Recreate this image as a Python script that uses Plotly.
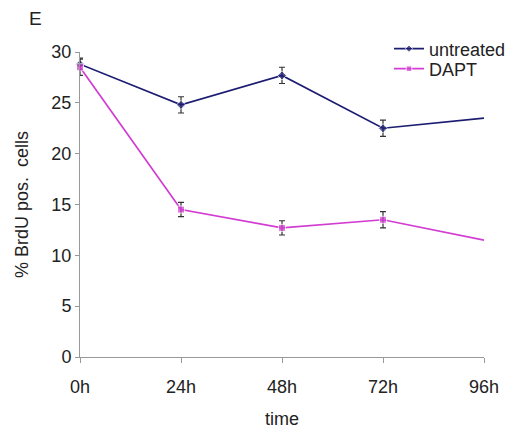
import plotly.graph_objects as go

times = [0, 24, 48, 72, 96]
tick_labels = ["0h", "24h", "48h", "72h", "96h"]
untreated = [28.8, 24.8, 27.7, 22.5, 23.5]
untreated_err = [0.6, 0.8, 0.8, 0.8]
dapt = [28.5, 14.5, 12.7, 13.5, 11.5]
dapt_err = [0.8, 0.7, 0.7, 0.8]

navy = "#1c1c72"
mag = "#d23cd2"
font = "Liberation Sans, Arial, sans-serif"

L, T, PW, PH = 80, 52, 404, 305

fig = go.Figure()
for name, vals, errs, col, sym, leg in [
    ("untreated", untreated, untreated_err, navy, "diamond", "legend"),
    ("DAPT", dapt, dapt_err, mag, "square", "legend2"),
]:
    n = len(errs)
    fig.add_trace(go.Scatter(
        x=times[:n], y=vals[:n], mode="markers", showlegend=False,
        marker=dict(size=0.1, color=col, opacity=0),
        error_y=dict(type="data", array=errs, color="#333333", thickness=1.2, width=3),
        cliponaxis=False, hoverinfo="skip"))
    fig.add_trace(go.Scatter(
        x=times, y=vals, mode="lines+markers", name=name, legend=leg,
        line=dict(color=col, width=1.7),
        marker=dict(symbol=sym, size=[7] * n + [0] * (len(times) - n), color=col),
        cliponaxis=False))

legend_common = dict(xanchor="left", yanchor="middle", bgcolor="rgba(0,0,0,0)",
                     font=dict(size=18), itemwidth=30, borderwidth=0)
fig.update_layout(
    width=511, height=433,
    margin=dict(l=L, r=511 - L - PW, t=T, b=433 - T - PH, autoexpand=False),
    plot_bgcolor="white", paper_bgcolor="white",
    font=dict(family=font, size=18, color="#222222"),
    showlegend=True,
    legend=dict(x=(389 - L) / PW, y=1 + (T - 49) / PH, **legend_common),
    legend2=dict(x=(389 - L) / PW, y=1 - (69 - T) / PH, **legend_common),
    xaxis=dict(range=[0, 96], tickvals=times, ticktext=tick_labels,
               showgrid=False, zeroline=False, showline=True,
               linecolor="#999999", linewidth=1, ticks="outside",
               ticklen=5, tickcolor="#999999", ticklabelstandoff=8,
               title=dict(text="time", standoff=16, font=dict(size=18)),
               tickfont=dict(size=18)),
    yaxis=dict(range=[0, 30], dtick=5, showgrid=False, zeroline=False,
               showline=True, linecolor="#999999", linewidth=1,
               ticks="outside", ticklen=4, tickcolor="#999999",
               title=dict(text="% BrdU pos.&nbsp; cells", standoff=18, font=dict(size=18)),
               tickfont=dict(size=18)),
    annotations=[dict(text="E", x=(35 - L) / PW, y=1 + (T - 18) / PH,
                      xref="paper", yref="paper", showarrow=False,
                      xanchor="center", yanchor="middle", font=dict(size=19))],
)
fig.write_html("out.html", config={"displayModeBar": False},
               post_script="document.body.style.margin='0';")
